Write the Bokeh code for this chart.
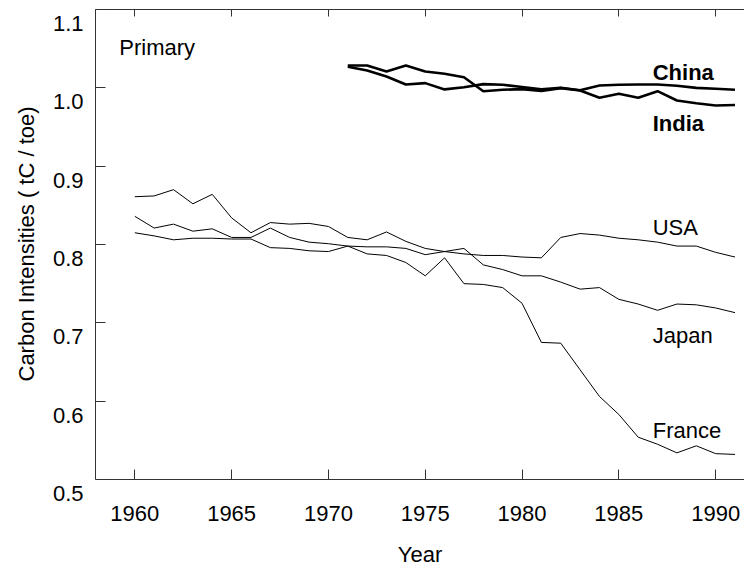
from bokeh.plotting import figure
from bokeh.models import Range1d, LinearAxis, FixedTicker, Label, Title, CustomJSTickFormatter
from bokeh.embed import file_html
from bokeh.resources import INLINE

years = list(range(1960, 1992))
years_asia = list(range(1971, 1992))

usa = [0.861, 0.862, 0.870, 0.852, 0.864, 0.834, 0.815, 0.828, 0.826, 0.827,
       0.823, 0.809, 0.806, 0.816, 0.804, 0.795, 0.791, 0.788, 0.786, 0.786,
       0.784, 0.783, 0.809, 0.814, 0.812, 0.808, 0.806, 0.803, 0.798, 0.798,
       0.790, 0.784]
france = [0.836, 0.821, 0.826, 0.817, 0.820, 0.809, 0.809, 0.821, 0.809, 0.803,
          0.801, 0.798, 0.788, 0.786, 0.777, 0.760, 0.783, 0.750, 0.749, 0.745,
          0.725, 0.675, 0.674, 0.640, 0.606, 0.583, 0.554, 0.545, 0.534, 0.543,
          0.533, 0.532]
japan = [0.815, 0.811, 0.806, 0.808, 0.808, 0.807, 0.807, 0.796, 0.795, 0.792,
         0.791, 0.798, 0.797, 0.797, 0.795, 0.787, 0.791, 0.795, 0.774, 0.768,
         0.760, 0.760, 0.752, 0.743, 0.745, 0.730, 0.724, 0.716, 0.724, 0.723,
         0.719, 0.713]
china = [1.027, 1.022, 1.0145, 1.0043, 1.006, 0.998, 1.0008, 1.0047, 1.004, 1.001,
         0.998, 1.000, 0.997, 1.003, 1.004, 1.0043, 1.0043, 1.0026, 1.000, 0.9988,
         0.9975]
india = [1.0285, 1.0285, 1.0208, 1.0285, 1.0208, 1.0179, 1.0136, 0.9957, 0.9975, 0.9983,
         0.996, 0.9996, 0.9966, 0.9873, 0.9924, 0.9873, 0.9957, 0.9838, 0.9804, 0.9775,
         0.978]

x_ticks = [1960, 1965, 1970, 1975, 1980, 1985, 1990]
y_ticks = [0.5, 0.6, 0.7, 0.8, 0.9, 1.0, 1.1]

FONT = "Liberation Sans"
FS = "22px"
AX = "#333333"

Y0, Y1 = 0.5, 1.1
PX_PER_UNIT = 470 / (Y1 - Y0)          # frame: 0.5 .. 1.1 over 470 px
EXTRA = 88 / PX_PER_UNIT               # room under the x axis for its labels
LAB_SHIFT = 14 / PX_PER_UNIT           # y tick labels sit 14 px below ticks

p = figure(width=744, height=567, output_backend="svg", toolbar_location=None,
           x_range=Range1d(1957.97, 1991.49),
           y_range=Range1d(Y0 - EXTRA, Y1),
           min_border_left=94, min_border_right=0, min_border_top=9,
           min_border_bottom=0)
p.outline_line_color = None
p.grid.visible = False
p.background_fill_color = "white"
p.border_fill_color = "white"

# x axis, drawn at y = 0.5
xa = p.xaxis[0]
xa.fixed_location = Y0
xa.ticker = FixedTicker(ticks=x_ticks, minor_ticks=[])
xa.axis_line_color = AX
xa.major_tick_line_color = AX
xa.minor_tick_line_color = None
xa.major_tick_in = 10
xa.major_tick_out = 0
xa.major_label_text_font = FONT
xa.major_label_text_font_size = FS
xa.major_label_text_color = "black"
xa.major_label_standoff = 26
xa.axis_label = "Year"
xa.axis_label_text_font = FONT
xa.axis_label_text_font_size = FS
xa.axis_label_text_font_style = "normal"
xa.axis_label_text_color = "black"
xa.axis_label_standoff = 18

# y axis: spine and ticks only
ya = p.yaxis[0]
ya.bounds = (Y0, Y1)
ya.ticker = FixedTicker(ticks=[], minor_ticks=y_ticks)
ya.axis_line_color = AX
ya.major_tick_line_color = None
ya.minor_tick_line_color = AX
ya.minor_tick_in = 10
ya.minor_tick_out = 0
ya.major_label_standoff = 0
ya.axis_label_standoff = 0

# y tick labels, a little below the ticks as in the original
yl = LinearAxis(ticker=FixedTicker(ticks=[v - LAB_SHIFT for v in y_ticks], minor_ticks=[]),
                formatter=CustomJSTickFormatter(
                    args=dict(s=LAB_SHIFT), code="return (tick + s).toFixed(1);"))
yl.axis_line_color = None
yl.major_tick_line_color = None
yl.minor_tick_line_color = None
yl.major_tick_in = 0
yl.major_tick_out = 0
yl.major_label_standoff = 12
yl.major_label_text_font = FONT
yl.major_label_text_font_size = FS
yl.major_label_text_color = "black"
p.add_layout(yl, "left")

# y axis title, centred on the 0.5 .. 1.1 span
ytitle = Title(text="Carbon Intensities ( tC / toe)", align="left", offset=186,
               standoff=22, text_font=FONT, text_font_size=FS,
               text_font_style="normal", text_color="black")
p.add_layout(ytitle, "left")

top = LinearAxis(ticker=FixedTicker(ticks=[], minor_ticks=x_ticks))
top.axis_line_color = AX
top.minor_tick_line_color = AX
top.minor_tick_in = 7
top.minor_tick_out = 0
top.major_tick_line_color = None
top.major_label_standoff = 0
p.add_layout(top, "above")

p.line(years, usa, line_color="black", line_width=1)
p.line(years, france, line_color="black", line_width=1)
p.line(years, japan, line_color="black", line_width=1)
p.line(years_asia, china, line_color="black", line_width=2.6)
p.line(years_asia, india, line_color="black", line_width=2.6)

def lab(x, y, t, bold=False):
    p.add_layout(Label(x=x, y=y, text=t, text_font=FONT, text_font_size=FS,
                       text_baseline="middle", text_align="left",
                       text_color="black",
                       text_font_style="bold" if bold else "normal"))

lab(1959.2, 1.0515, "Primary")
lab(1986.75, 1.0196, "China", True)
lab(1986.75, 0.9545, "India", True)
lab(1986.75, 0.8217, "USA")
lab(1986.75, 0.6838, "Japan")
lab(1986.75, 0.5625, "France")

open("out.html", "w").write(file_html(p, INLINE))
